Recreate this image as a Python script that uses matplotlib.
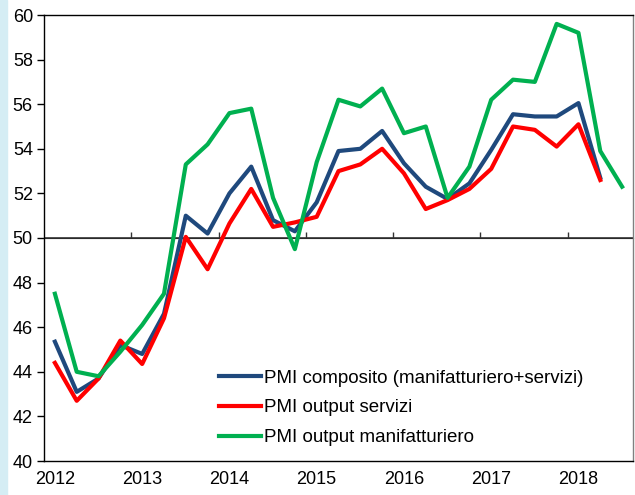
import matplotlib
matplotlib.use("Agg")
import matplotlib.pyplot as plt
from matplotlib.patches import Rectangle

plt.rcParams['font.family'] = ['Liberation Sans', 'DejaVu Sans']

# trimestri dal 2012 T1
years = ['2012', '2013', '2014', '2015', '2016', '2017', '2018']
composito = [45.35, 43.1, 43.7, 45.2, 44.8, 46.6, 51.0, 50.2, 52.0, 53.2,
             50.8, 50.3, 51.6, 53.9, 54.0, 54.8, 53.35, 52.3, 51.75, 52.45,
             53.95, 55.55, 55.45, 55.45, 56.05, 52.7]
servizi = [44.4, 42.7, 43.7, 45.4, 44.35, 46.4, 50.05, 48.6, 50.65, 52.2,
           50.5, 50.7, 50.95, 53.0, 53.3, 54.0, 52.9, 51.3, 51.7, 52.2,
           53.1, 55.0, 54.85, 54.1, 55.1, 52.6]
manifatt = [47.5, 44.0, 43.8, 44.9, 46.1, 47.5, 53.3, 54.2, 55.6, 55.8,
            51.8, 49.5, 53.4, 56.2, 55.9, 56.7, 54.7, 55.0, 51.8, 53.2,
            56.2, 57.1, 57.0, 59.6, 59.2, 53.9, 52.3]

fig = plt.figure(figsize=(6.35, 4.95), dpi=100)
fig.patches.append(Rectangle((0, 0), 7 / 635, 1, transform=fig.transFigure,
                             color='#d5edf4', zorder=0))
ax = fig.add_axes([44 / 635, 1 - 461 / 495, 589 / 635, 446 / 495])

ax.plot(range(len(composito)), composito, color='#1f497d', lw=3,
        label='PMI composito (manifatturiero+servizi)')
ax.plot(range(len(servizi)), servizi, color='#ff0000', lw=3,
        label='PMI output servizi')
ax.plot(range(len(manifatt)), manifatt, color='#00b050', lw=3,
        label='PMI output manifatturiero')

ax.set_ylim(40, 60)
ax.set_xlim(-0.5, 26.5)
ax.set_yticks(range(40, 61, 2))
ax.tick_params(axis='y', direction='out', length=5, width=1, labelsize=13, pad=3)
ax.set_xticks(range(0, 4 * len(years), 4))
ax.set_xticklabels(years)
ax.tick_params(axis='x', length=0, labelsize=13, pad=7)
for s in ax.spines.values():
    s.set_linewidth(1)
ax.spines['right'].set_color('#808080')

# asse a quota 50 con tacche tra gli anni
ax.axhline(50, color='#333333', lw=1.2, zorder=1)
sec = ax.secondary_xaxis(0.5)
sec.set_xticks([4 * k - 0.5 for k in range(1, len(years))])
sec.set_xticklabels([])
sec.tick_params(direction='out', length=4, width=1, color='#333333')
sec.spines['bottom'].set_visible(False)

ax.legend(loc='upper left', bbox_to_anchor=(0.285, 0.222), frameon=False,
          fontsize=13.5, handlelength=2.2, handletextpad=0.2, labelspacing=0.68,
          borderaxespad=0)

fig.savefig('out.png', dpi=100)
